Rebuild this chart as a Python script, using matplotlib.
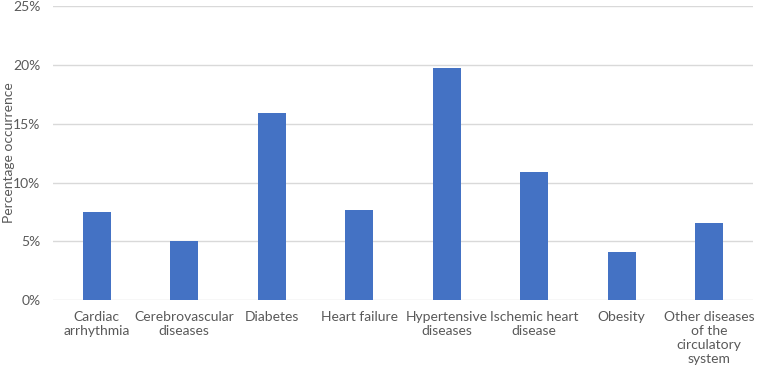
import matplotlib.pyplot as plt
from matplotlib.ticker import FuncFormatter

categories = [
    "Cardiac\narrhythmia",
    "Cerebrovascular\ndiseases",
    "Diabetes",
    "Heart failure",
    "Hypertensive\ndiseases",
    "Ischemic heart\ndisease",
    "Obesity",
    "Other diseases\nof the\ncirculatory\nsystem",
]
percentages = [7.5, 5.0, 15.95, 7.7, 19.7, 10.9, 4.1, 6.55]
y_ticks = [0, 5, 10, 15, 20, 25]

plt.rcParams["font.family"] = ["Lato", "DejaVu Sans"]
text_color = "#595959"

fig = plt.figure(figsize=(7.59, 3.73), dpi=100)
ax = fig.add_axes([0.0698, 0.195, 0.9222, 0.789])

x = range(len(categories))
ax.bar(x, percentages, width=0.32, color="#4472C4", zorder=3)

ax.set_xlim(-0.5, len(categories) - 0.5)
ax.set_ylim(0, 25)
ax.set_yticks(y_ticks)
ax.yaxis.set_major_formatter(FuncFormatter(lambda v, p: f"{v:.0f}%"))
ax.set_xticks(list(x))
ax.set_xticklabels(categories, linespacing=1.2)

ax.grid(axis="y", color="#D9D9D9", linewidth=1, zorder=0)
for s in ax.spines.values():
    s.set_visible(False)
ax.tick_params(axis="both", length=0, labelsize=10, colors=text_color)
ax.tick_params(axis="y", pad=9)
ax.tick_params(axis="x", pad=8)

ax.set_ylabel("Percentage occurrence", fontsize=10, color=text_color)
ax.yaxis.set_label_coords(-0.054, 0.5)

plt.savefig("out.png", dpi=100)
